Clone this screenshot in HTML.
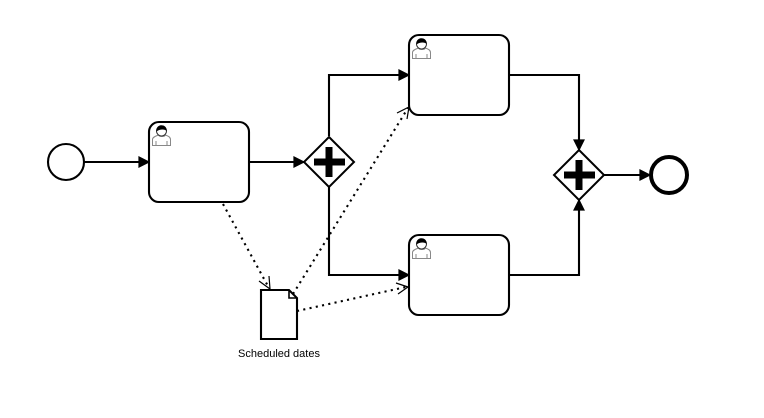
<!DOCTYPE html>
<html>
<head>
<meta charset="utf-8">
<style>
html,body{margin:0;padding:0;background:#fff;width:764px;height:418px;overflow:hidden}
svg{display:block;filter:blur(0.3px)}
text{font-family:"Liberation Sans",sans-serif;font-size:11px;fill:#000}
</style>
</head>
<body>
<svg width="764" height="418" viewBox="0 0 764 418" xmlns="http://www.w3.org/2000/svg">
<defs>
<g id="user">
  <path d="M1.5 21 V15 C1.5 12.5 5 11.5 7.5 10.5 C8.5 12.5 13.5 12.5 14.5 10.5 C17 11.5 19.5 12.5 19.5 15 V21 Z" fill="#fff" stroke="#888" stroke-width="1"/>
  <path d="M5 21 V16.5 M16 21 V16.5" stroke="#888" stroke-width="1" fill="none"/>
  <circle cx="10.5" cy="6.5" r="5" fill="#fff" stroke="#333" stroke-width="1"/>
  <path d="M5.5 7 C5 2 8.5 0.8 10.5 0.8 C13.5 0.8 16 3 15.5 6.5 C14 4.5 8.5 4.5 5.5 7 Z" fill="#000"/>
</g>
</defs>

<g fill="none" stroke="#000" stroke-width="2.1">
  <path d="M84 162 H140"/>
  <path d="M249 162 H295"/>
  <path d="M329 136 V75 H400"/>
  <path d="M329 187 V275 H400"/>
  <path d="M509 75 H579 V141"/>
  <path d="M509 275 H579 V209"/>
  <path d="M604 175 H641"/>
</g>
<g fill="#000" stroke="#000" stroke-width="1.2">
  <path d="M149 162 L139 157 V167 Z"/>
  <path d="M304 162 L294 157 V167 Z"/>
  <path d="M409 75 L399 70 V80 Z"/>
  <path d="M409 275 L399 270 V280 Z"/>
  <path d="M579 150 L574 140 H584 Z"/>
  <path d="M579 200 L574 210 H584 Z"/>
  <path d="M650 175 L640 170 V180 Z"/>
</g>

<g fill="none" stroke="#000" stroke-width="2.1" stroke-dasharray="2.1 4.3">
  <path d="M223 204 L269 288"/>
  <path d="M293 294 L408 108"/>
  <path d="M297 311 L406 287"/>
</g>
<g fill="none" stroke="#000" stroke-width="1.2">
  <path d="M259 281 L270 289 L269 276"/>
  <path d="M397 113 L409 107 L407 119"/>
  <path d="M396 283 L408 287 L398 294"/>
</g>

<circle cx="66" cy="162" r="18" fill="#fff" stroke="#000" stroke-width="2.1"/>
<circle cx="669" cy="175" r="18" fill="#fff" stroke="#000" stroke-width="4"/>

<g fill="#fff" stroke="#000" stroke-width="2.1">
  <rect x="149" y="122" width="100" height="80" rx="10" ry="10"/>
  <rect x="409" y="35" width="100" height="80" rx="10" ry="10"/>
  <rect x="409" y="235" width="100" height="80" rx="10" ry="10"/>
</g>
<use href="#user" x="151" y="124.5"/>
<use href="#user" x="411" y="37.5"/>
<use href="#user" x="411" y="237.5"/>

<g fill="#fff" stroke="#000" stroke-width="2">
  <path d="M329 137 L354 162 L329 187 L304 162 Z"/>
  <path d="M579 150 L604 175 L579 200 L554 175 Z"/>
</g>
<g fill="#000">
  <path d="M325.5 147 H332.5 V158.5 H345 V165.5 H332.5 V177 H325.5 V165.5 H314 V158.5 H325.5 Z"/>
  <path d="M575.5 160 H582.5 V171.5 H595 V178.5 H582.5 V190 H575.5 V178.5 H564 V171.5 H575.5 Z"/>
</g>

<path d="M261 290 H289 L297 298 V339 H261 Z" fill="#fff" stroke="#000" stroke-width="2.1"/>
<path d="M289 290 V298 H297" fill="none" stroke="#000" stroke-width="1.6"/>

<text x="279" y="357" text-anchor="middle">Scheduled dates</text>
</svg>
</body>
</html>
